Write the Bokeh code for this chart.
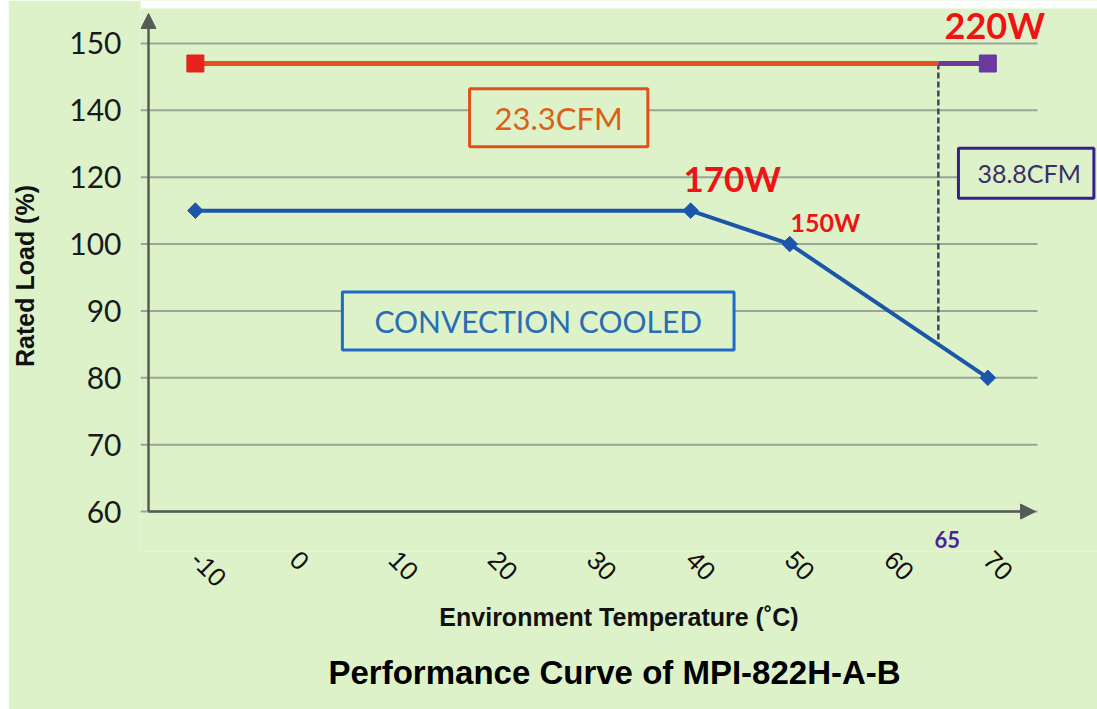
import math
import numpy as np
from bokeh.plotting import figure
from bokeh.layouts import row
from bokeh.models import FixedTicker, Arrow, NormalHead, Label, Title, Spacer, BoxAnnotation
from bokeh.embed import file_html
from bokeh.resources import INLINE

# ---------------- data ----------------
y_tick_values = [60, 70, 80, 90, 100, 120, 140, 150]   # evenly spaced on the axis
x_tick_values = [-10, 0, 10, 20, 30, 40, 50, 60, 70]

conv_temp = [-10, 40, 50, 70]          # convection cooled curve
conv_load = [110, 110, 100, 80]

cfm23_temp = [-10, 65]                 # 23.3CFM
cfm23_load = [147, 147]
cfm38_temp = [65, 70]                  # 38.8CFM
cfm38_load = [147, 147]
limit_temp = [65, 65]                  # dashed 65 degC marker
limit_load = [147, 85]

# the axis is piecewise: each tick occupies one equal slot
slots = list(range(len(y_tick_values)))
def ypos(v):
    return np.interp(v, y_tick_values, slots)

BG = "#ddf2c9"
AX = "#565b56"
GRID = "#9aa595"

# ranges / axis geometry
X0, X1 = -15.54, 81.07      # frame
AXIS_X = -14.73             # where the y axis arrow stands
GRID_END = 75.02
XARROW_END = 74.82
Y0, Y1 = -0.597, 7.642      # frame
YARROW_END = 7.448
TOP_STRIP = 8 / 67          # white page margin at the top

p = figure(width=1089, height=709, x_range=(X0, X1), y_range=(Y0, Y1),
           output_backend="svg", toolbar_location=None,
           min_border_left=129, min_border_right=0, min_border_top=0, min_border_bottom=157,
           background_fill_color=BG, border_fill_color=BG, outline_line_color=None)

p.add_layout(BoxAnnotation(left=X0, right=X1, top=Y1, bottom=Y1 - TOP_STRIP,
                           fill_color="white", fill_alpha=1, line_color=None, level="underlay"))

# grid (drawn from the tick slots)
p.xgrid.grid_line_color = None
p.ygrid.grid_line_color = None
p.segment(x0=[X0] * len(slots), x1=[GRID_END] * len(slots), y0=slots, y1=slots,
          line_color=GRID, line_width=2)

# y axis
p.yaxis.ticker = FixedTicker(ticks=slots)
p.yaxis.major_label_overrides = {s: str(v) for s, v in zip(slots, y_tick_values)}
p.yaxis.axis_line_color = None
p.yaxis.major_tick_line_color = None
p.yaxis.minor_tick_line_color = None
p.yaxis.major_tick_out = 0
p.yaxis.major_tick_in = 0
p.yaxis.major_label_standoff = 19
p.yaxis.major_label_text_font = "Lato"
p.yaxis.major_label_text_font_size = "30px"
p.yaxis.major_label_text_color = "#1a1a1a"
p.yaxis.axis_label = "Rated Load (%)"
p.yaxis.axis_label_text_font = "Liberation Sans"
p.yaxis.axis_label_text_font_style = "bold"
p.yaxis.axis_label_text_font_size = "25px"
p.yaxis.axis_label_text_color = "#111111"
p.yaxis.axis_label_standoff = 27

# x axis
p.xaxis.ticker = FixedTicker(ticks=x_tick_values)
p.xaxis.major_label_overrides = {v: str(v) for v in x_tick_values}
p.xaxis.axis_line_color = None
p.xaxis.major_tick_line_color = None
p.xaxis.minor_tick_line_color = None
p.xaxis.major_tick_out = 0
p.xaxis.major_tick_in = 0
p.xaxis.major_label_orientation = -math.pi / 4
p.xaxis.major_label_standoff = 4
p.xaxis.major_label_text_font = "Liberation Sans"
p.xaxis.major_label_text_font_size = "26px"
p.xaxis.major_label_text_color = "#111111"
p.xaxis.axis_label = "Environment Temperature (˚C)"
p.xaxis.axis_label_text_font = "Liberation Sans"
p.xaxis.axis_label_text_font_style = "bold"
p.xaxis.axis_label_text_font_size = "25px"
p.xaxis.axis_label_text_color = "#111111"
p.xaxis.axis_label_standoff = 5

# axis arrows
p.add_layout(Arrow(end=NormalHead(size=15, fill_color=AX, line_color=AX),
                   x_start=AXIS_X, y_start=0, x_end=XARROW_END, y_end=0,
                   line_color=AX, line_width=2.5))
p.add_layout(Arrow(end=NormalHead(size=15, fill_color=AX, line_color=AX),
                   x_start=AXIS_X, y_start=0, x_end=AXIS_X, y_end=YARROW_END,
                   line_color=AX, line_width=2.5))

# dashed limit line
p.line(limit_temp, ypos(limit_load), line_color="#47455f", line_width=2.5, line_dash="6 3")

# forced air curves
p.line(cfm23_temp, ypos(cfm23_load), line_color="#e2531c", line_width=5)
p.scatter([cfm23_temp[0]], [ypos(cfm23_load[0])], marker="square", size=17,
          fill_color="#e8231c", line_color="#e8231c")
p.line(cfm38_temp, ypos(cfm38_load), line_color="#6a3a9c", line_width=5)
p.scatter([cfm38_temp[-1]], [ypos(cfm38_load[-1])], marker="square", size=17,
          fill_color="#6a3a9c", line_color="#6a3a9c")

# convection curve
p.line(conv_temp, ypos(conv_load), line_color="#1c56aa", line_width=4)
p.scatter(conv_temp, ypos(conv_load), marker="square", angle=math.pi / 4, size=11,
          fill_color="#1c56aa", line_color="#1c56aa")

# annotations
def lbl(x, y, text, size, color, style="bold", font="Lato", **kw):
    p.add_layout(Label(x=x, y=y, text=text, text_font=font, text_font_size=size,
                       text_font_style=style, text_color=color, text_align="center",
                       text_baseline="middle", **kw))

lbl(70.7, 7.27, "220W", "36px", "#f01313")
lbl(44.2, 4.99, "170W", "35px", "#f01313")
lbl(53.6, 4.33, "150W", "25px", "#f01313")
lbl(65.9, -0.418, "65", "22px", "#4b1fa0")

lbl(26.68, 5.888, "23.3CFM", "31px", "#dc5f17", style="normal",
    border_line_color="#e0501a", border_line_width=3, background_fill_color=BG,
    padding=dict(left=25, right=25, top=10, bottom=10))
lbl(73.87, 5.06, "38.8CFM", "25px", "#3b3068", style="normal",
    border_line_color="#3a1f8a", border_line_width=3, background_fill_color=BG,
    padding=dict(left=19, right=13, top=10, bottom=10))
lbl(24.61, 2.851, "CONVECTION COOLED", "30px", "#2a6db5", style="normal",
    border_line_color="#1f6ac8", border_line_width=3, background_fill_color=BG,
    padding=dict(left=32, right=32, top=11, bottom=11))

p.add_layout(Title(text="Performance Curve of MPI-822H-A-B", align="left", offset=188,
                   text_font="Liberation Sans", text_font_size="33px",
                   text_font_style="bold", text_color="#000000", standoff=37), "below")

layout = row(Spacer(width=8, height=709), p)
open("out.html", "w").write(file_html(layout, INLINE))
